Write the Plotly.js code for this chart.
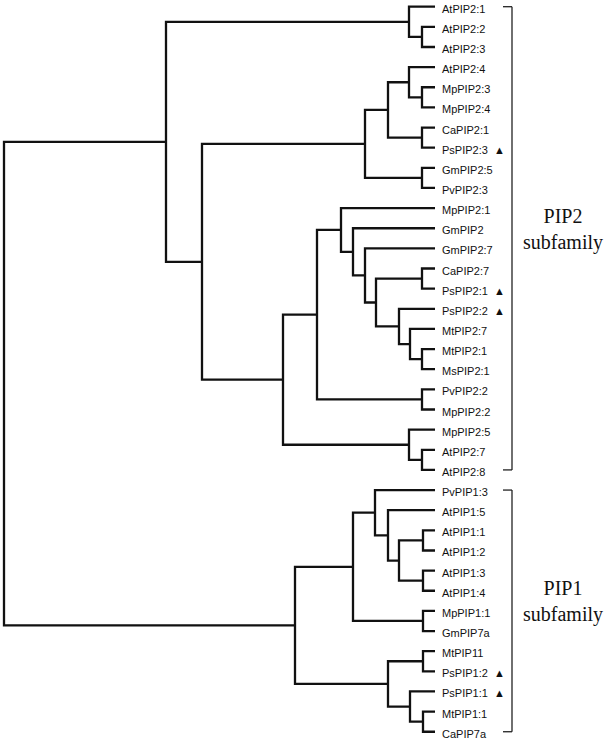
<!DOCTYPE html>
<html>
<head>
<meta charset="utf-8">
<script src="https://cdn.plot.ly/plotly-3.0.1.min.js"></script>
<style>html,body{margin:0;padding:0;background:#fff;}#chart{width:614px;height:743px;}</style>
</head>
<body>
<div id="chart"></div>
<script>
// Leaves, top to bottom
const leaves = ["AtPIP2:1","AtPIP2:2","AtPIP2:3","AtPIP2:4","MpPIP2:3","MpPIP2:4","CaPIP2:1","PsPIP2:3",
  "GmPIP2:5","PvPIP2:3","MpPIP2:1","GmPIP2","GmPIP2:7","CaPIP2:7","PsPIP2:1","PsPIP2:2","MtPIP2:7",
  "MtPIP2:1","MsPIP2:1","PvPIP2:2","MpPIP2:2","MpPIP2:5","AtPIP2:7","AtPIP2:8",
  "PvPIP1:3","AtPIP1:5","AtPIP1:1","AtPIP1:2","AtPIP1:3","AtPIP1:4","MpPIP1:1","GmPIP7a",
  "MtPIP11","PsPIP1:2","PsPIP1:1","MtPIP1:1","CaPIP7a"];
const marked = ["PsPIP2:3","PsPIP2:1","PsPIP2:2","PsPIP1:2","PsPIP1:1"];
const tipDepth = 431;
// Internal nodes (distance from root)
const nodeIds    = ["n1","n2","n3","n4","n5","n6","n7","n8","n9","n10","n11","n12","n13","n14","n15","n16","n17","n18","n19","n20","n21","n22","n23",
                    "n24","n25","n26","n27","n28","n29","n30","n31","n32","n33","n34","n35","root"];
const nodeChildA = ["AtPIP2:2","AtPIP2:1","MpPIP2:3","AtPIP2:4","CaPIP2:1","n4","GmPIP2:5","n6","CaPIP2:7","MtPIP2:1","MtPIP2:7","PsPIP2:2","n9","GmPIP2:7","GmPIP2","MpPIP2:1","PvPIP2:2","n16","AtPIP2:7","MpPIP2:5","n18","n8","n2",
                    "AtPIP1:1","AtPIP1:3","n24","AtPIP1:5","PvPIP1:3","MpPIP1:1","n28","MtPIP11","MtPIP1:1","PsPIP1:1","n31","n30","n23"];
const nodeChildB = ["AtPIP2:3","n1","MpPIP2:4","n3","PsPIP2:3","n5","PvPIP2:3","n7","PsPIP2:1","MsPIP2:1","n10","n11","n12","n13","n14","n15","MpPIP2:2","n17","AtPIP2:8","n19","n20","n21","n22",
                    "AtPIP1:2","AtPIP1:4","n25","n26","n27","GmPIP7a","n29","PsPIP1:2","CaPIP7a","n32","n33","n34","n35"];
const nodeDepth  = [418,405,418,405,418,384,418,361,418,418,406,395,372,361,349,337,418,313,418,405,279,198,162,
                    419,419,395,384,371,419,349,419,419,406,384,291,0];
// Subfamily groups
const groupNames = ["PIP2","PIP1"];
const groupFirst = ["AtPIP2:1","PvPIP1:3"];
const groupLast  = ["AtPIP2:8","CaPIP7a"];

// Build positions
const pos = {};
leaves.forEach((n,i)=>{pos[n]={x:tipDepth,y:i};});
nodeIds.forEach((id,k)=>{
  const a=pos[nodeChildA[k]], b=pos[nodeChildB[k]];
  pos[id]={x:nodeDepth[k], y:(a.y+b.y)/2};
});
const xs=[], ys=[];
nodeIds.forEach((id,k)=>{
  const a=pos[nodeChildA[k]], b=pos[nodeChildB[k]], d=nodeDepth[k];
  xs.push(a.x,d,d,b.x,null); ys.push(a.y,a.y,b.y,b.y,null);
});

const annotations = leaves.map((n,i)=>({
  x:tipDepth, y:i, xref:'x', yref:'y', xanchor:'left', yanchor:'middle', xshift:5, yshift:-2,
  showarrow:false, text: n + (marked.includes(n) ? '\u00a0\u00a0\u25B2' : ''),
  font:{family:'Liberation Sans, Arial, sans-serif', size:11, color:'#111'}
}));
const shapes=[];
groupNames.forEach((g,j)=>{
  const y0=leaves.indexOf(groupFirst[j]), y1=leaves.indexOf(groupLast[j]);
  const bx=tipDepth+77, tx=tipDepth+68;
  const line={color:'#222',width:1.3};
  shapes.push({type:'line',xref:'x',yref:'y',x0:tx,x1:bx,y0:y0,y1:y0,line});
  shapes.push({type:'line',xref:'x',yref:'y',x0:bx,x1:bx,y0:y0,y1:y1,line});
  shapes.push({type:'line',xref:'x',yref:'y',x0:tx,x1:bx,y0:y1,y1:y1,line});
  const mid=(y0+y1)/2;
  annotations.push({x:tipDepth+128,y:mid,xref:'x',yref:'y',xanchor:'center',yanchor:'middle',yshift:9,showarrow:false,
    align:'center',text:g+'<br>subfamily',font:{family:'Liberation Serif, Times New Roman, serif',size:20,color:'#111'}});
});

const step=20.14, top0=6.7;
const yTop=-top0/step, yBot=yTop+743/step;
Plotly.newPlot('chart',[{x:xs,y:ys,mode:'lines',type:'scatter',line:{color:'#111',width:2.3},hoverinfo:'skip',connectgaps:false}],{
  width:614,height:743,margin:{l:0,r:0,t:0,b:0},paper_bgcolor:'#fff',plot_bgcolor:'#fff',showlegend:false,
  xaxis:{range:[-4,610],visible:false,fixedrange:true},
  yaxis:{range:[yBot,yTop],visible:false,fixedrange:true},
  annotations, shapes
},{staticPlot:true});
</script>
</body>
</html>
